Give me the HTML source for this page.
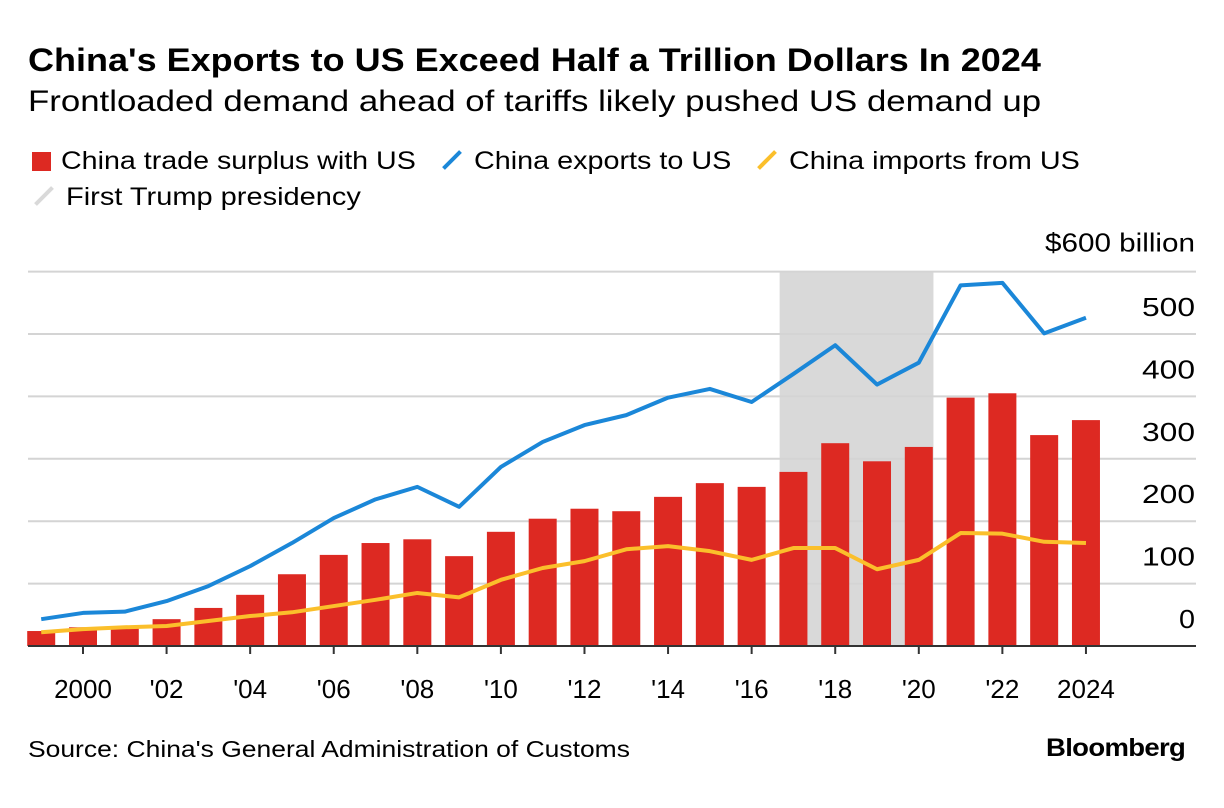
<!DOCTYPE html>
<html><head><meta charset="utf-8"><style>
body{margin:0;background:#fff;font-family:"Liberation Sans",Arial,sans-serif;}
#wrap{position:relative;width:1224px;height:808px;overflow:hidden;}
.t{position:absolute;white-space:nowrap;color:#000;transform-origin:0 0;}
.ic{display:inline-block;width:24px;height:4px;transform:rotate(-45deg);margin-right:10px;vertical-align:7px}
</style></head><body>
<div id="wrap">
<div class="t" style="left:28px;top:42px;font-size:32px;font-weight:bold;transform:scaleX(1.125);">China's Exports to US Exceed Half a Trillion Dollars In 2024</div>
<div class="t" style="left:28px;top:85px;font-size:30px;transform:scaleX(1.16);">Frontloaded demand ahead of tariffs likely pushed US demand up</div>
<div>
<div class="t" style="left:32px;top:147px;font-size:25px;"><span style="display:inline-block;width:19px;height:19px;background:#dd2922;margin-right:10px;vertical-align:-2px"></span><span style="display:inline-block;transform:scaleX(1.145);transform-origin:0 0">China trade surplus with US</span></div>
<div class="t" style="left:440px;top:147px;font-size:25px;"><span class="ic" style="background:#1b87d8"></span><span style="display:inline-block;transform:scaleX(1.15);transform-origin:0 0">China exports to US</span></div>
<div class="t" style="left:755px;top:147px;font-size:25px;"><span class="ic" style="background:#fbbf2b"></span><span style="display:inline-block;transform:scaleX(1.15);transform-origin:0 0">China imports from US</span></div>
<div class="t" style="left:32px;top:183px;font-size:25px;"><span class="ic" style="background:#d9d9d9"></span><span style="display:inline-block;transform:scaleX(1.16);transform-origin:0 0">First Trump presidency</span></div>
</div>
<svg id="chart" width="1224" height="808" style="position:absolute;left:0;top:0"></svg>
<div class="t" style="left:28px;top:736px;font-size:23px;transform:scaleX(1.15);">Source: China's General Administration of Customs</div>
<div class="t" style="left:1046px;top:734px;font-size:25px;font-weight:bold;letter-spacing:-0.6px;transform:scaleX(1.1);">Bloomberg</div>
</div>
<script>
const years=[1999,2000,2001,2002,2003,2004,2005,2006,2007,2008,2009,2010,2011,2012,2013,2014,2015,2016,2017,2018,2019,2020,2021,2022,2023,2024];
const surplus=[24,30,28,43,61,82,115,146,165,171,144,183,204,220,216,239,261,255,279,325,296,319,398,405,338,362];
const exportsUS=[43,53,55,72,96,128,165,205,235,255,223,287,327,354,370,398,412,391,436,482,419,454,578,582,501,526];
const importsUS=[22,27,30,32,40,48,54,64,74,85,78,106,125,136,155,160,152,138,157,157,123,138,181,180,167,165];
const yTicks=[0,100,200,300,400,500,600];
const xTickYears=[2000,2002,2004,2006,2008,2010,2012,2014,2016,2018,2020,2022,2024];
const xTickLabels=["2000","'02","'04","'06","'08","'10","'12","'14","'16","'18","'20","'22","2024"];
const trumpStart=2016.67, trumpEnd=2020.35;
const NS="http://www.w3.org/2000/svg";
const svg=document.getElementById('chart');
const x=v=>83+(v-2000)*41.79;
const y=v=>646-v*0.624;
function mk(tag,attrs){const e=document.createElementNS(NS,tag);for(const k in attrs)e.setAttribute(k,attrs[k]);svg.appendChild(e);return e;}
let r=mk('rect',{x:x(trumpStart),y:y(600),width:x(trumpEnd)-x(trumpStart),height:y(0)-y(600),fill:'#d9d9d9'});


yTicks.forEach(t=>{
 if(t>0){const l=mk('line',{x1:28,x2:1196,y1:y(t),y2:y(t),stroke:'#d4d4d4','stroke-width':2});
 
 }
 const tx=mk('text',{x:1195,y:y(t)-(t==600?20:18),'text-anchor':'end','font-size':26,'font-family':'Liberation Sans, sans-serif','textLength':t==600?150:(t==0?16:53),'lengthAdjust':'spacingAndGlyphs'});
 tx.textContent=t==600?'$600 billion':String(t);
 
 
});
years.forEach((yr,i)=>{
 const b=mk('rect',{x:x(yr)-14,y:y(surplus[i]),width:28,height:y(0)-y(surplus[i]),fill:'#dd2922'});
 
 
});
const ax=mk('line',{x1:28,x2:1196,y1:y(0),y2:y(0),stroke:'#333','stroke-width':2});


xTickYears.forEach((yr,i)=>{
 const tk=mk('line',{x1:x(yr),x2:x(yr),y1:y(0),y2:y(0)+8,stroke:'#333','stroke-width':2});
 
 
 const tx=mk('text',{x:x(yr),y:698,'text-anchor':'middle','font-size':26,'font-family':'Liberation Sans, sans-serif'});
 tx.textContent=xTickLabels[i];
 
 
});
function line(arr,color,name){
 const p=mk('polyline',{points:years.map((yr,i)=>x(yr)+','+y(arr[i])).join(' '),fill:'none',stroke:color,'stroke-width':4,'stroke-linejoin':'round'});
 
 
}
line(importsUS,'#fbbf2b','line-imports');
line(exportsUS,'#1b87d8','line-exports');
</script>
</body></html>
